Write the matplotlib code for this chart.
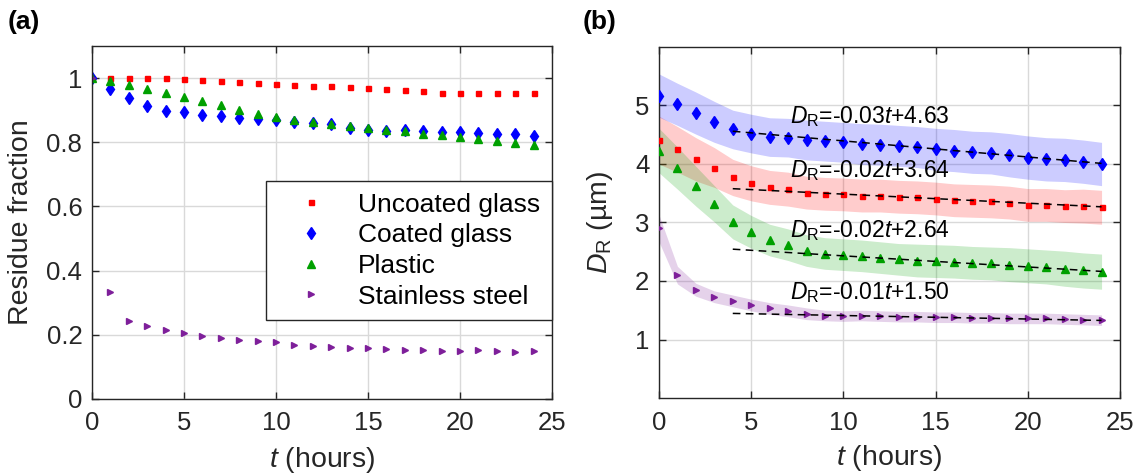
import matplotlib
matplotlib.use("Agg")
import matplotlib.pyplot as plt
import numpy as np

plt.rcParams['font.family'] = ['Liberation Sans', 'DejaVu Sans']
plt.rcParams['mathtext.fontset'] = 'custom'
plt.rcParams['mathtext.rm'] = 'Liberation Sans'
plt.rcParams['mathtext.it'] = 'Liberation Sans:italic'

# ---------------- data ----------------
t = list(range(25))
series_names = ["Uncoated glass", "Coated glass", "Plastic", "Stainless steel"]

# panel (a): residue fraction
frac_uncoated = [1.0, 1.0, 1.0, 1.0, 1.0, 0.997, 0.994, 0.991, 0.988, 0.984, 0.982, 0.979, 0.976,
                 0.974, 0.971, 0.968, 0.965, 0.962, 0.959, 0.955, 0.955, 0.955, 0.955, 0.955, 0.955]
frac_coated = [1.0, 0.966, 0.937, 0.912, 0.898, 0.893, 0.886, 0.883, 0.877, 0.873, 0.869, 0.862, 0.860,
               0.856, 0.845, 0.839, 0.834, 0.837, 0.834, 0.832, 0.831, 0.829, 0.827, 0.825, 0.821]
frac_plastic = [1.0, 0.990, 0.978, 0.965, 0.952, 0.941, 0.929, 0.915, 0.901, 0.889, 0.878, 0.869, 0.863,
                0.857, 0.850, 0.845, 0.839, 0.835, 0.827, 0.822, 0.815, 0.809, 0.803, 0.797, 0.791]
frac_steel = [1.0, 0.333, 0.244, 0.229, 0.215, 0.206, 0.195, 0.189, 0.183, 0.181, 0.177, 0.169, 0.166,
              0.163, 0.159, 0.160, 0.157, 0.154, 0.153, 0.151, 0.151, 0.152, 0.151, 0.148, 0.150]

# panel (b): residue diameter D_R (um), mean and spread
dr_uncoated = [4.41, 4.25, 4.08, 3.94, 3.77, 3.67, 3.60, 3.57, 3.51, 3.49, 3.48, 3.46, 3.46,
               3.44, 3.43, 3.41, 3.38, 3.37, 3.36, 3.34, 3.30, 3.30, 3.28, 3.28, 3.26]
dr_coated = [5.17, 5.02, 4.87, 4.72, 4.59, 4.52, 4.46, 4.45, 4.41, 4.39, 4.37, 4.34, 4.33,
             4.31, 4.29, 4.25, 4.23, 4.20, 4.19, 4.15, 4.11, 4.08, 4.07, 4.04, 4.00]
dr_plastic = [4.23, 3.93, 3.62, 3.32, 3.01, 2.84, 2.70, 2.62, 2.52, 2.47, 2.45, 2.43, 2.40,
              2.37, 2.35, 2.34, 2.33, 2.31, 2.30, 2.28, 2.26, 2.24, 2.21, 2.18, 2.16]
dr_steel = [2.90, 2.10, 1.85, 1.73, 1.66, 1.59, 1.53, 1.49, 1.44, 1.41, 1.40, 1.41, 1.40,
            1.39, 1.39, 1.38, 1.38, 1.37, 1.37, 1.36, 1.36, 1.36, 1.35, 1.34, 1.33]

sd_uncoated = [0.41, 0.39, 0.37, 0.34, 0.31, 0.30, 0.29, 0.29, 0.28, 0.28, 0.28, 0.28, 0.28,
               0.28, 0.28, 0.28, 0.28, 0.28, 0.28, 0.28, 0.28, 0.28, 0.28, 0.29, 0.29]
sd_coated = [0.37, 0.36, 0.36, 0.35, 0.33, 0.33, 0.33, 0.33, 0.34, 0.34, 0.34, 0.35, 0.35,
             0.35, 0.35, 0.36, 0.36, 0.36, 0.36, 0.37, 0.37, 0.37, 0.37, 0.37, 0.37]
sd_plastic = [0.38, 0.36, 0.34, 0.31, 0.29, 0.28, 0.27, 0.27, 0.27, 0.27, 0.27, 0.27, 0.27,
              0.27, 0.28, 0.28, 0.28, 0.28, 0.28, 0.29, 0.29, 0.29, 0.30, 0.30, 0.30]
sd_steel = [0.23, 0.15, 0.11, 0.10, 0.10, 0.10, 0.10, 0.10, 0.10, 0.09, 0.09, 0.09, 0.09,
            0.09, 0.09, 0.09, 0.09, 0.09, 0.09, 0.09, 0.09, 0.09, 0.09, 0.09, 0.09]

# linear fits (t >= 4 h)
fit_range = [4, 24]
fit_slope = [-0.0155, -0.0275, -0.019, -0.006]
fit_intercept = [3.64, 4.67, 2.62, 1.47]
fit_labels = [r'$D_\mathrm{R}$=-0.02$t$+3.64', r'$D_\mathrm{R}$=-0.03$t$+4.63',
              r'$D_\mathrm{R}$=-0.02$t$+2.64', r'$D_\mathrm{R}$=-0.01$t$+1.50']
label_x = [7.1, 7.1, 7.1, 7.1]
label_y = [3.89, 4.81, 2.87, 1.80]

x_ticks = [0, 5, 10, 15, 20, 25]
a_yticks = [0, 0.2, 0.4, 0.6, 0.8, 1.0]
a_yticklabels = ["0", "0.2", "0.4", "0.6", "0.8", "1"]
b_yticks = [1, 2, 3, 4, 5]

# ---------------- style ----------------
colors = ['#ff0000', '#0000ff', '#00a000', '#7e1f9a']
markers = ['s', 'd', '^', '>']
msizes = [3.6, 6.0, 5.2, 5.0]
axcol = '#262626'
TICK_FS = 18.5
LAB_FS = 20.5

fig = plt.figure(figsize=(11.38, 4.75), dpi=100)
axa = fig.add_axes([92/1138, 1-399/475, 460/1138, 353/475])
axb = fig.add_axes([659/1138, 1-398/475, 461/1138, 351/475])


def style(ax):
    ax.grid(True, color='#d9d9d9', linewidth=1.0)
    ax.set_axisbelow(True)
    for s in ax.spines.values():
        s.set_color(axcol)
        s.set_linewidth(1.0)
    ax.tick_params(direction='in', length=5, width=1.0, colors=axcol,
                   labelsize=TICK_FS, top=True, right=True)
    ax.tick_params(axis='y', pad=7)
    ax.tick_params(axis='x', pad=9)


def place_labels(ax, xlab, ylab, ylab_x):
    ax.set_xlabel(xlab, fontsize=LAB_FS, color='#262626', va='center')
    ax.set_ylabel(ylab, fontsize=LAB_FS, color='#262626', va='center')
    ax.xaxis.set_label_coords(0.5, -0.172)
    ax.yaxis.set_label_coords(ylab_x, 0.5)


# ---------------- panel (a) ----------------
fracs = [frac_uncoated, frac_coated, frac_plastic, frac_steel]
for i in range(4):
    axa.plot(t, fracs[i], linestyle='none', marker=markers[i], ms=msizes[i],
             color=colors[i], mec=colors[i], label=series_names[i])
axa.set_xlim(0, 25)
axa.set_ylim(0, 1.1)
axa.set_xticks(x_ticks)
axa.set_yticks(a_yticks)
axa.set_yticklabels(a_yticklabels)
style(axa)
place_labels(axa, r'$t$ (hours)', 'Residue fraction', -0.154)
leg = axa.legend(loc='upper right', bbox_to_anchor=(1.0, 0.618), borderaxespad=0,
                 fontsize=19, frameon=True, fancybox=False, edgecolor=axcol,
                 handlelength=2.5, handletextpad=0.55, borderpad=0.45, labelspacing=0.25,
                 markerscale=1.0)
leg.get_frame().set_linewidth(1.0)
leg.get_frame().set_alpha(1.0)

# ---------------- panel (b) ----------------
drs = [dr_uncoated, dr_coated, dr_plastic, dr_steel]
sds = [sd_uncoated, sd_coated, sd_plastic, sd_steel]
for i in range(4):
    m = np.array(drs[i])
    s = np.array(sds[i])
    axb.fill_between(t, m - s, m + s, color=colors[i], alpha=0.2, linewidth=0)
for i in range(4):
    axb.plot(t, drs[i], linestyle='none', marker=markers[i], ms=msizes[i],
             color=colors[i], mec=colors[i], zorder=3)
    tf = np.array(fit_range)
    axb.plot(tf, fit_slope[i] * tf + fit_intercept[i], color='black', linestyle=(0, (5, 3.5)),
             linewidth=1.1, zorder=4)
    axb.text(label_x[i], label_y[i], fit_labels[i], fontsize=16.5, color='black',
             ha='left', va='center', zorder=5)
axb.set_xlim(0, 25)
axb.set_ylim(0, 6)
axb.set_xticks(x_ticks)
axb.set_yticks(b_yticks)
style(axb)
place_labels(axb, r'$t$ (hours)', r'$D_\mathrm{R}$ (µm)', -0.127)

fig.text(8/1138, 1-22/475, '(a)', fontsize=19, fontweight='bold', va='center', ha='left')
fig.text(583/1138, 1-22/475, '(b)', fontsize=19, fontweight='bold', va='center', ha='left')

fig.savefig('out.png', dpi=100)
